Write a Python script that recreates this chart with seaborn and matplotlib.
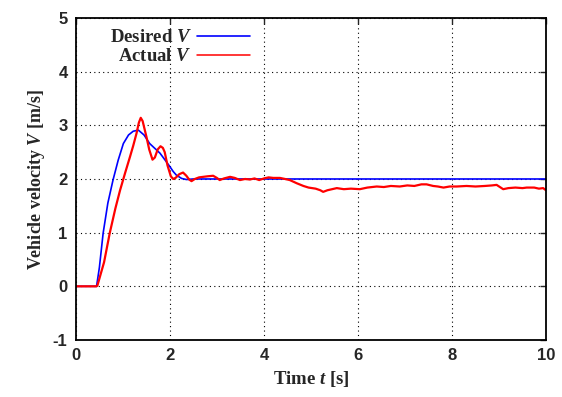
import matplotlib
matplotlib.use("Agg")
import matplotlib.pyplot as plt
import seaborn as sns
import pandas as pd

# desired velocity profile
t_desired = [0.0, 0.44, 0.50, 0.58, 0.68, 0.79, 0.90, 1.01, 1.12, 1.22, 1.33, 1.45,
             1.57, 1.68, 1.79, 1.90, 2.00, 2.07, 2.14, 2.25, 2.35, 2.50, 10.0]
v_desired = [0.0, 0.0, 0.35, 0.99, 1.55, 1.98, 2.35, 2.66, 2.82, 2.89, 2.91, 2.82,
             2.66, 2.57, 2.48, 2.35, 2.23, 2.14, 2.07, 2.01, 1.99, 2.00, 2.00]

# measured velocity
t_actual = [0.0, 0.44, 0.46, 0.60, 0.72, 0.84, 0.94, 1.05, 1.15, 1.22, 1.29, 1.34,
            1.38, 1.42, 1.50, 1.56, 1.63, 1.68, 1.74, 1.80, 1.85, 1.89, 1.95, 2.02,
            2.07, 2.12, 2.20, 2.28, 2.35, 2.41, 2.46, 2.53, 2.62, 2.71, 2.80, 2.92,
            3.00, 3.06, 3.15, 3.28, 3.38, 3.49, 3.60, 3.70, 3.80, 3.90, 4.00, 4.10,
            4.20, 4.34, 4.45, 4.55, 4.70, 4.84, 4.95, 5.10, 5.20, 5.26, 5.35, 5.45,
            5.55, 5.70, 5.85, 6.04, 6.20, 6.40, 6.55, 6.70, 6.89, 7.05, 7.20, 7.35,
            7.46, 7.60, 7.70, 7.82, 7.95, 8.10, 8.31, 8.50, 8.70, 8.85, 8.95, 9.02,
            9.09, 9.20, 9.35, 9.50, 9.59, 9.75, 9.85, 9.94, 10.0]
v_actual = [0.0, 0.0, 0.02, 0.45, 0.99, 1.45, 1.79, 2.12, 2.41, 2.62, 2.85, 3.05,
            3.14, 3.08, 2.79, 2.55, 2.36, 2.40, 2.55, 2.61, 2.58, 2.50, 2.25, 2.05,
            2.00, 2.02, 2.09, 2.12, 2.06, 1.99, 1.96, 2.00, 2.03, 2.04, 2.05, 2.06,
            2.02, 1.98, 2.01, 2.04, 2.02, 1.98, 2.00, 1.99, 2.01, 1.98, 2.01, 2.03,
            2.02, 2.02, 2.00, 1.98, 1.92, 1.87, 1.84, 1.82, 1.79, 1.76, 1.79, 1.81,
            1.83, 1.81, 1.82, 1.81, 1.84, 1.86, 1.85, 1.87, 1.86, 1.88, 1.87, 1.90,
            1.90, 1.87, 1.86, 1.84, 1.86, 1.86, 1.87, 1.86, 1.87, 1.88, 1.89, 1.85,
            1.81, 1.83, 1.84, 1.83, 1.84, 1.84, 1.82, 1.83, 1.79]

x_ticks = [0, 2, 4, 6, 8, 10]
y_ticks = [-1, 0, 1, 2, 3, 4, 5]

sns.set_style("white")
plt.rcParams["mathtext.fontset"] = "custom"
plt.rcParams["mathtext.it"] = "Liberation Serif:italic:bold"
plt.rcParams["mathtext.rm"] = "Liberation Serif:bold"

df_d = pd.DataFrame({"t": t_desired, "v": v_desired})
df_a = pd.DataFrame({"t": t_actual, "v": v_actual})

fig = plt.figure(figsize=(5.62, 3.97), dpi=100)
ax = fig.add_axes([0.135, 0.1436, 0.8365, 0.8111])

sns.lineplot(data=df_d, x="t", y="v", ax=ax, color="#0000ff", lw=1.2,
             label="Desired $V$", sort=False)
sns.lineplot(data=df_a, x="t", y="v", ax=ax, color="#ff0000", lw=1.6,
             label="Actual $V$", sort=False)

ax.set_xlim(0, 10)
ax.set_ylim(-1, 5)
ax.set_xticks(x_ticks)
ax.set_yticks(y_ticks)
ax.set_xticklabels([str(x) for x in x_ticks], family="Liberation Sans", weight="bold", fontsize=12)
ax.set_yticklabels([str(y) for y in y_ticks], family="Liberation Sans", weight="bold", fontsize=12)
ax.tick_params(direction="in", top=True, right=True, length=4, width=1, pad=6)

ax.grid(True, color="black", linestyle=(0, (1, 3)), linewidth=0.8)
for s in ax.spines.values():
    s.set_color("black")
    s.set_linewidth(1.3)

ax.set_xlabel("Time $t$ [s]", family="Liberation Serif", weight="bold", fontsize=13.5)
ax.set_ylabel("Vehicle velocity $V$ [m/s]", family="Liberation Serif", weight="bold", fontsize=13)

leg = ax.legend(loc="upper right", bbox_to_anchor=(0.386, 0.988), borderaxespad=0,
                frameon=False, markerfirst=False, handlelength=2.8, handletextpad=0.3,
                labelspacing=0.1, prop={"family": "Liberation Serif", "weight": "bold", "size": 13.5})
leg.get_lines()[1].set_linewidth(1.1)

fig.savefig("out.png", dpi=100)
